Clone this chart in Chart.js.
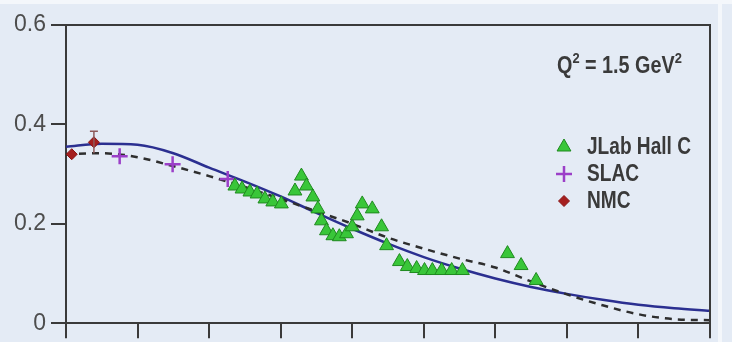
<!DOCTYPE html>
<html>
<head>
<meta charset="utf-8">
<script src="https://cdn.jsdelivr.net/npm/chart.js@4/dist/chart.umd.min.js"></script>
<style>
  html, body { margin: 0; padding: 0; background: #e4ebf5; }
  #wrap { width: 732px; height: 342px; position: relative; }
</style>
</head>
<body>
<div id="wrap"><canvas id="sfChart" width="732" height="342"></canvas></div>
<script>
// x positions of the model curves
const curveX = [0, 0.05, 0.1, 0.15, 0.2, 0.25, 0.3, 0.35, 0.4, 0.45, 0.5, 0.55, 0.6, 0.65, 0.7, 0.75, 0.8, 0.85, 0.9];
const solidY = [0.355, 0.361, 0.359, 0.342, 0.313, 0.285, 0.255, 0.222, 0.190, 0.160, 0.133, 0.110, 0.090, 0.073, 0.059, 0.047, 0.037, 0.030, 0.025];
const dashedY = [0.340, 0.342, 0.334, 0.316, 0.296, 0.274, 0.250, 0.225, 0.200, 0.172, 0.150, 0.130, 0.112, 0.084, 0.058, 0.036, 0.018, 0.008, 0.006];

// JLab Hall C
const jlabX = [0.236, 0.246, 0.257, 0.267, 0.278, 0.289, 0.301, 0.320, 0.329, 0.336, 0.345, 0.352, 0.357, 0.364, 0.373, 0.382, 0.392, 0.400, 0.407, 0.414, 0.428, 0.441, 0.448, 0.466, 0.477, 0.490, 0.501, 0.512, 0.525, 0.539, 0.554, 0.617, 0.636, 0.657];
const jlabY = [0.276, 0.270, 0.264, 0.260, 0.250, 0.244, 0.240, 0.266, 0.296, 0.276, 0.254, 0.230, 0.206, 0.186, 0.176, 0.174, 0.180, 0.194, 0.216, 0.240, 0.230, 0.194, 0.156, 0.124, 0.114, 0.110, 0.106, 0.106, 0.106, 0.106, 0.106, 0.140, 0.116, 0.086];

// SLAC
const slacX = [0.075, 0.149, 0.226];
const slacY = [0.336, 0.320, 0.290];

// NMC
const nmcX = [0.008, 0.039];
const nmcY = [0.340, 0.364];
const nmcErr = [0, 0.022];

const xTicks = [0, 0.1, 0.2, 0.3, 0.4, 0.5, 0.6, 0.7, 0.8, 0.9];
const yTicks = [0, 0.2, 0.4, 0.6];

const pts = (xs, ys) => xs.map((x, i) => ({ x: x, y: ys[i] }));

const AXIS = '#3a3a3a';
const TEXT = '#3a3a3a';
const LABEL_FONT = 'bold 23px "Liberation Sans", Arial, sans-serif';
const SUP_FONT = 'bold 15px "Liberation Sans", Arial, sans-serif';

// condensed text: draw real text squeezed horizontally
function squeezed(ctx, s, x, y, k) {
    ctx.save();
    ctx.translate(x, y);
    ctx.scale(k, 1);
    ctx.fillText(s, 0, 0);
    ctx.restore();
    return ctx.measureText(s).width * k;
}

// background, box, error bars, legend and Q^2 note
const decor = {
    id: 'decor',
    beforeDraw(chart) {
        const ctx = chart.ctx;
        ctx.save();
        ctx.fillStyle = '#e4ebf5';
        ctx.fillRect(0, 0, chart.width, chart.height);
        ctx.fillStyle = '#f4f7fb';
        ctx.fillRect(0, 0, chart.width, 4);
        ctx.fillRect(718, 0, 4, chart.height);
        ctx.restore();
    },
    afterDatasetsDraw(chart) {
        const ctx = chart.ctx;
        const xs = chart.scales.x, ys = chart.scales.y;
        const a = chart.chartArea;
        ctx.save();
        // NMC error bars
        ctx.strokeStyle = '#8d5a5a';
        ctx.lineWidth = 1.5;
        nmcX.forEach((x, i) => {
            if (!nmcErr[i]) return;
            const px = xs.getPixelForValue(x);
            const top = ys.getPixelForValue(nmcY[i] + nmcErr[i]);
            const bot = ys.getPixelForValue(nmcY[i] - nmcErr[i]);
            ctx.beginPath();
            ctx.moveTo(px, top); ctx.lineTo(px, bot);
            ctx.moveTo(px - 4, top); ctx.lineTo(px + 4, top);
            ctx.stroke();
        });
        // frame top + right
        ctx.strokeStyle = AXIS;
        ctx.lineWidth = 2;
        ctx.beginPath();
        ctx.moveTo(a.left, a.top); ctx.lineTo(a.right, a.top); ctx.lineTo(a.right, a.bottom);
        ctx.stroke();

        // legend
        const items = chart.data.datasets.filter(d => d.inLegend);
        ctx.textBaseline = 'middle';
        items.forEach((d, i) => {
            const y = 147 + i * 27;
            ctx.fillStyle = d.backgroundColor;
            ctx.strokeStyle = d.borderColor;
            ctx.lineWidth = d.borderWidth;
            Chart.helpers.drawPoint(ctx, { pointStyle: d.pointStyle, radius: d.pointRadius, borderWidth: d.borderWidth, rotation: 0 }, 564, y);
            ctx.fillStyle = TEXT;
            ctx.font = LABEL_FONT;
            squeezed(ctx, d.label, 587, y + 1, 0.83);
        });

        // Q^2 = 1.5 GeV^2
        let x = 557;
        const base = 67;
        ctx.fillStyle = TEXT;
        const put = (s, f, dy) => {
            ctx.font = f;
            x += squeezed(ctx, s, x, base + dy, 0.86);
        };
        put('Q', LABEL_FONT, 0);
        put('2', SUP_FONT, -8);
        put(' = 1.5 GeV', LABEL_FONT, 0);
        put('2', SUP_FONT, -8);
        ctx.restore();
    }
};

new Chart(document.getElementById('sfChart'), {
    type: 'scatter',
    data: {
        datasets: [
            {
                label: 'JLab Hall C',
                inLegend: true,
                data: pts(jlabX, jlabY),
                pointStyle: 'triangle',
                pointRadius: 8,
                backgroundColor: '#39c639',
                borderColor: '#1f8a1f',
                borderWidth: 1,
                order: 1
            },
            {
                label: 'SLAC',
                inLegend: true,
                data: pts(slacX, slacY),
                pointStyle: 'cross',
                pointRadius: 8,
                backgroundColor: '#9b3fc8',
                borderColor: '#9b3fc8',
                borderWidth: 2.5,
                order: 2
            },
            {
                label: 'NMC',
                inLegend: true,
                data: pts(nmcX, nmcY),
                pointStyle: 'rectRot',
                pointRadius: 5.5,
                backgroundColor: '#a51f1f',
                borderColor: '#8a1515',
                borderWidth: 1,
                order: 0
            },
            {
                label: 'model',
                data: pts(curveX, solidY),
                showLine: true,
                pointRadius: 0,
                borderColor: '#2b2f90',
                borderWidth: 2.5,
                cubicInterpolationMode: 'monotone',
                order: 4
            },
            {
                label: 'model dashed',
                data: pts(curveX, dashedY),
                showLine: true,
                pointRadius: 0,
                borderColor: '#2e2e2e',
                borderWidth: 2.5,
                borderDash: [7, 6],
                cubicInterpolationMode: 'monotone',
                order: 3
            }
        ]
    },
    options: {
        responsive: false,
        animation: false,
        layout: { padding: { top: 25, right: 22, bottom: 0, left: 0 } },
        plugins: {
            legend: { display: false },
            tooltip: { enabled: false }
        },
        scales: {
            x: {
                type: 'linear',
                min: 0,
                max: 0.9,
                afterFit: s => { s.height = 18; },
                afterBuildTicks: s => { s.ticks = xTicks.map(v => ({ value: v })); },
                ticks: { autoSkip: false, callback: () => '', font: { size: 1 } },
                grid: { drawOnChartArea: false, tickLength: 15, color: AXIS, lineWidth: 2 },
                border: { color: AXIS, width: 2 }
            },
            y: {
                min: 0,
                max: 0.6,
                afterFit: s => { s.width = 66; },
                afterBuildTicks: s => { s.ticks = yTicks.map(v => ({ value: v })); },
                ticks: {
                    color: '#4d4d4d',
                    padding: 5,
                    font: { family: '"Liberation Sans", Arial, sans-serif', size: 23 },
                    callback: v => (v === 0 ? '0' : v.toFixed(1))
                },
                grid: { drawOnChartArea: false, tickLength: 15, color: AXIS, lineWidth: 2 },
                border: { color: AXIS, width: 2 }
            }
        }
    },
    plugins: [decor]
});
</script>
</body>
</html>
